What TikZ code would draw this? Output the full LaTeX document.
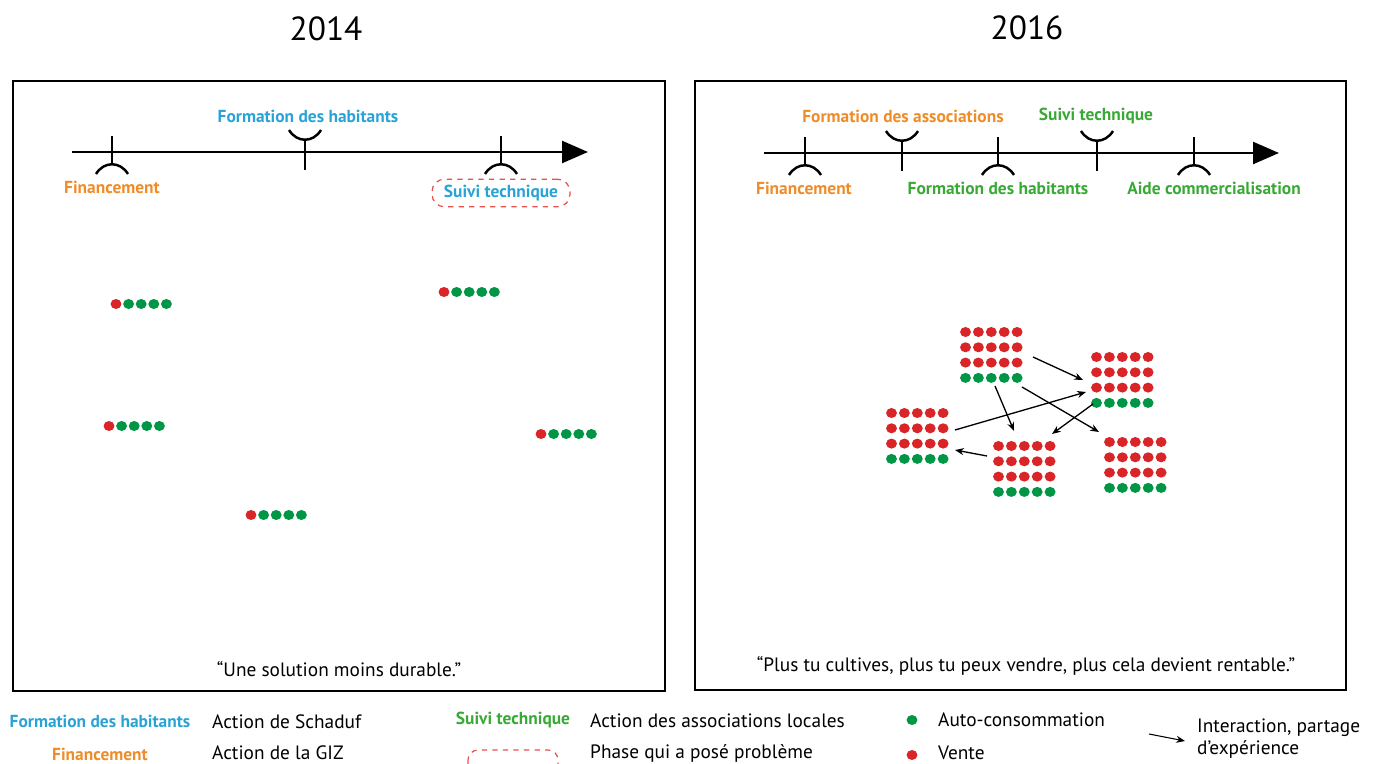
\documentclass[tikz,border=0pt]{standalone}
\usepackage{fontspec}
\setmainfont{PT Sans}
\usetikzlibrary{arrows.meta}
\definecolor{sky}{RGB}{41,163,214}
\definecolor{amber}{RGB}{240,140,40}
\definecolor{leaf}{RGB}{57,169,53}
\definecolor{dotred}{RGB}{218,37,40}
\definecolor{dotgreen}{RGB}{0,150,70}
\definecolor{phase}{RGB}{230,80,80}
\tikzset{
  lbl/.style={font=\bfseries\fontsize{9.9}{11}\selectfont},
  txt/.style={font=\fontsize{11}{12.5}\selectfont},
  yr/.style={font=\fontsize{19}{22}\selectfont},
  axis/.style={line width=1.4pt,-{Stealth[length=0.52cm,width=0.44cm,inset=0pt]}},
  tick/.style={line width=1.4pt},
  link/.style={line width=0.75pt,-{Stealth[length=5pt,width=4pt]}},
  pane/.style={line width=0.8pt},
  badphase/.style={draw=phase,dashed,line width=0.7pt,rounded corners=0.25cm},
}
% marker with cup above the axis
\newcommand{\tlup}[2]{%
  \draw[tick] (#1,#2-13) -- (#1,#2+18);
  \draw[tick] (#1-16,#2-22) .. controls (#1-8,#2-9) and (#1+8,#2-9) .. (#1+16,#2-22);}
% marker with cap below the axis
\newcommand{\tldown}[2]{%
  \draw[tick] (#1,#2-16) -- (#1,#2+13);
  \draw[tick] (#1-16,#2+22) .. controls (#1-8,#2+9) and (#1+8,#2+9) .. (#1+16,#2+22);}
% one red and four green dots
\newcommand{\dotrow}[2]{%
  \fill[dotred] (#1,#2) ellipse [x radius=3.1pt,y radius=2.85pt];
  \foreach \i in {1,...,4}
    \fill[dotgreen] (#1+12.6*\i,#2) ellipse [x radius=3.1pt,y radius=2.85pt];}
% three red rows and one green row
\newcommand{\dotblock}[2]{%
  \foreach \i in {0,...,4}{
    \foreach \j in {0,1,2}
      \fill[dotred] (#1+12.9*\i,#2+15.3*\j) ellipse [x radius=3.1pt,y radius=2.85pt];
    \fill[dotgreen] (#1+12.9*\i,#2+45.9) ellipse [x radius=3.1pt,y radius=2.85pt];}}
\begin{document}
\begin{tikzpicture}[x=0.02cm,y=-0.02cm]
\useasboundingbox (0,0) rectangle (1380,764);

% 2014
\node[yr] (y14) at (326,29) {2014};
\draw[pane] (13,81) rectangle (665,691);
\coordinate (l0) at (72,152);
\coordinate (l1) at (588,152);
\draw[axis] (l0) -- (l1);
\tldown{112}{152}
\tlup{305}{152}
\tldown{501}{152}
\node[lbl,text=sky] (lform) at (308,116) {Formation des habitants};
\node[lbl,text=amber] (lfin) at (112,187) {Financement};
\node[lbl,text=sky,badphase,minimum width=2.76cm,minimum height=0.5cm] (lsuivi) at (501,193) {Suivi technique};
\dotrow{116}{304}
\dotrow{444}{292}
\dotrow{109}{426}
\dotrow{541}{434}
\dotrow{251}{515}
\node[txt] (q14) at (339,669) {“Une solution moins durable.”};

% 2016
\node[yr] (y16) at (1027,28) {2016};
\draw[pane] (695,81) rectangle (1346,690);
\coordinate (r0) at (764,153);
\coordinate (r1) at (1279,153);
\draw[axis] (r0) -- (r1);
\tldown{805}{153}
\tlup{902}{153}
\tldown{998}{153}
\tlup{1097}{153}
\tldown{1194}{153}
\node[lbl,text=amber] (rasso) at (903,116) {Formation des associations};
\node[lbl,text=leaf] (rsuivi) at (1096,116) {Suivi technique};
\node[lbl,text=amber] (rfin) at (804,188) {Financement};
\node[lbl,text=leaf] (rform) at (998,188) {Formation des habitants};
\node[lbl,text=leaf] (raide) at (1214,188) {Aide commercialisation};
\dotblock{965.5}{332}
\dotblock{1096.5}{357}
\dotblock{891.5}{413}
\dotblock{998.5}{446}
\dotblock{1109.5}{442}
\coordinate (ab0) at (1033,357); \coordinate (ab1) at (1083,380);
\coordinate (ad0) at (995,386);  \coordinate (ad1) at (1014,431);
\coordinate (ae0) at (1022,387); \coordinate (ae1) at (1099,432);
\coordinate (cb0) at (955,430);  \coordinate (cb1) at (1086,392);
\coordinate (bd0) at (1093,404); \coordinate (bd1) at (1052,434);
\coordinate (dc0) at (987,456);  \coordinate (dc1) at (955,450);
\draw[link] (ab0) -- (ab1);
\draw[link] (ad0) -- (ad1);
\draw[link] (ae0) -- (ae1);
\draw[link] (cb0) -- (cb1);
\draw[link] (bd0) -- (bd1);
\draw[link] (dc0) -- (dc1);
\node[txt] (q16) at (1026,666) {“Plus tu cultives, plus tu peux vendre, plus cela devient rentable.”};

% legend
\node[lbl,text=sky] (kform) at (100,721) {Formation des habitants};
\node[txt,anchor=west] (kschaduf) at (206,722) {Action de Schaduf};
\node[lbl,text=amber] (kfin) at (100,754) {Financement};
\node[txt,anchor=west] (kgiz) at (206,753) {Action de la GIZ};
\node[lbl,text=leaf] (ksuivi) at (513,720) {Suivi technique};
\node[txt,anchor=west] (kasso) at (584,721) {Action des associations locales};
\draw[badphase,rounded corners=0.2cm] (468,750) rectangle (558,776);
\node[txt,anchor=west] (kphase) at (584,753) {Phase qui a posé problème};
\fill[dotgreen] (912,720) ellipse [x radius=3.1pt,y radius=2.85pt];
\node[txt,anchor=west] (kauto) at (932,720) {Auto-consommation};
\fill[dotred] (912,755) ellipse [x radius=3.1pt,y radius=2.85pt];
\node[txt,anchor=west] (kvente) at (932,753) {Vente};
\coordinate (k0) at (1149,734);
\coordinate (k1) at (1185,741);
\draw[link,line width=0.6pt] (k0) -- (k1);
\node[txt,anchor=west,align=left] (kinter) at (1191,739) {Interaction, partage\\d’expérience};
\end{tikzpicture}
\end{document}
